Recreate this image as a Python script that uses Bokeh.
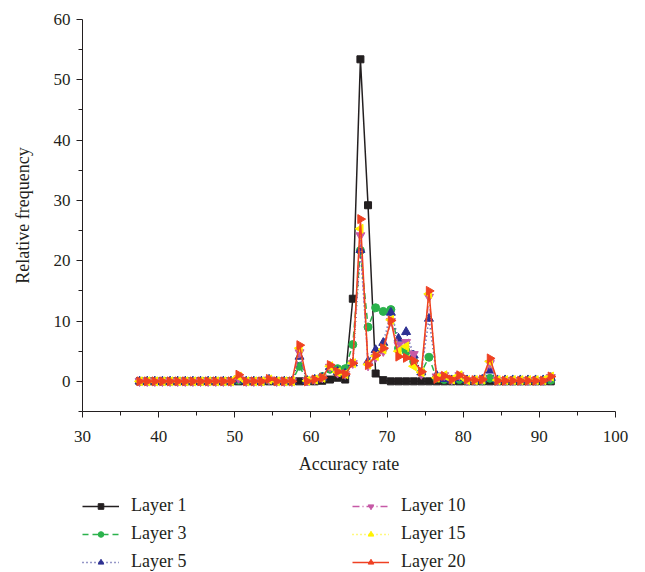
import math
import numpy as np
from bokeh.plotting import figure
from bokeh.layouts import column
from bokeh.models import Range1d, FixedTicker, Legend, LegendItem
from bokeh.embed import file_html
from bokeh.resources import INLINE

accuracy = [37.5, 38.5, 39.5, 40.5, 41.5, 42.5, 43.5, 44.5, 45.5, 46.5,
            47.5, 48.5, 49.5, 50.5, 51.5, 52.5, 53.5, 54.5, 55.5, 56.5,
            57.5, 58.5, 59.5, 60.5, 61.5, 62.5, 63.5, 64.5, 65.5, 66.5,
            67.5, 68.5, 69.5, 70.5, 71.5, 72.5, 73.5, 74.5, 75.5, 76.5,
            77.5, 78.5, 79.5, 80.5, 81.5, 82.5, 83.5, 84.5, 85.5, 86.5,
            87.5, 88.5, 89.5, 90.5, 91.5]

layer1 = [0, 0, 0, 0, 0, 0, 0, 0, 0, 0,
          0, 0, 0, 0, 0, 0, 0, 0, 0, 0,
          0, 0, 0, 0, 0.1, 0.3, 0.6, 0.3, 13.7, 53.4,
          29.2, 1.3, 0.2, 0, 0, 0, 0, 0, 0, 0,
          0, 0, 0, 0, 0, 0, 0, 0, 0, 0,
          0, 0, 0, 0, 0]

layer3 = [0, 0, 0, 0, 0, 0, 0, 0, 0, 0,
          0, 0, 0, 0.2, 0, 0, 0, 0.2, 0, 0,
          0, 2.5, 0.1, 0.3, 0.8, 2.0, 2.1, 2.1, 6.1, 21.7,
          9.0, 12.2, 11.6, 11.9, 5.5, 5.0, 3.3, 1.5, 4.0, 0.5,
          0.3, 0.2, 0.3, 0.1, 0.1, 0.1, 0.5, 0.1, 0.1, 0.1,
          0.1, 0.1, 0.1, 0.1, 0.2]

layer5 = [0, 0, 0, 0, 0, 0, 0, 0, 0, 0,
          0, 0, 0, 0.3, 0, 0, 0, 0.3, 0, 0,
          0, 4.1, 0.1, 0.3, 0.6, 2.4, 1.6, 1.3, 3.0, 21.8,
          3.3, 5.2, 6.4, 11.4, 7.1, 8.2, 4.3, 1.5, 10.4, 1.0,
          0.4, 0.2, 0.6, 0.2, 0.2, 0.3, 1.8, 0.2, 0.2, 0.2,
          0.2, 0.2, 0.2, 0.2, 0.6]

layer10 = [0, 0, 0, 0, 0, 0, 0, 0, 0, 0,
           0, 0, 0, 0.5, 0, 0, 0, 0.3, 0, 0,
           0, 4.8, 0.1, 0.3, 0.6, 2.4, 1.4, 1.2, 3.0, 24.2,
           2.6, 4.0, 5.0, 10.0, 6.0, 6.5, 4.5, 1.2, 14.0, 0.8,
           1.0, 0.3, 1.0, 0.2, 0.2, 0.3, 3.0, 0.2, 0.2, 0.2,
           0.2, 0.2, 0.2, 0.2, 0.7]

layer15 = [0, 0, 0, 0, 0, 0, 0, 0, 0, 0,
           0, 0, 0, 0.8, 0, 0, 0, 0.3, 0, 0,
           0, 5.5, 0.1, 0.3, 0.6, 2.5, 1.5, 1.2, 3.0, 25.3,
           2.8, 4.2, 5.3, 10.2, 5.0, 5.8, 2.5, 1.5, 14.5, 0.6,
           1.0, 0.3, 1.0, 0.2, 0.2, 0.3, 3.3, 0.2, 0.2, 0.2,
           0.2, 0.2, 0.2, 0.2, 0.8]

layer20 = [0, 0, 0, 0, 0, 0, 0, 0, 0, 0,
           0, 0, 0, 1.1, 0, 0, 0, 0.4, 0, 0,
           0, 6.0, 0, 0.3, 0.6, 2.7, 1.6, 1.2, 3.0, 26.9,
           2.7, 4.3, 5.5, 10.1, 4.1, 3.9, 3.4, 1.6, 15.0, 0.4,
           0.9, 0.3, 1.0, 0.3, 0.2, 0.3, 3.8, 0.1, 0.1, 0.1,
           0.1, 0.1, 0.1, 0.1, 0.8]

x_ticks = [30, 40, 50, 60, 70, 80, 90, 100]
y_ticks = [0, 10, 20, 30, 40, 50, 60]

FONT = "Liberation Serif"
TXT = "#231f20"

p = figure(width=645, height=485, output_backend="svg", toolbar_location=None,
           x_range=Range1d(30, 100), y_range=Range1d(-5, 60),
           min_border_left=82, min_border_right=30, min_border_top=19,
           min_border_bottom=74)
p.outline_line_color = None
p.grid.grid_line_color = None
p.background_fill_color = "white"
p.border_fill_color = "white"

p.xaxis.ticker = FixedTicker(ticks=x_ticks, minor_ticks=[35, 45, 55, 65, 75, 85, 95])
p.yaxis.ticker = FixedTicker(ticks=y_ticks, minor_ticks=[-5, 5, 15, 25, 35, 45, 55])
for ax in (p.xaxis[0], p.yaxis[0]):
    ax.axis_line_color = TXT
    ax.major_tick_line_color = TXT
    ax.minor_tick_line_color = TXT
    ax.major_tick_in = 0
    ax.major_tick_out = 6
    ax.minor_tick_in = 0
    ax.minor_tick_out = 4
    ax.major_label_text_font = FONT
    ax.major_label_text_font_size = "17px"
    ax.major_label_text_color = TXT
    ax.axis_label_text_font = FONT
    ax.axis_label_text_font_size = "18px"
    ax.axis_label_text_font_style = "normal"
    ax.axis_label_text_color = TXT
p.xaxis.axis_label = "Accuracy rate"
p.yaxis.axis_label = "Relative frequency"
p.xaxis.major_label_standoff = 13
p.yaxis.major_label_standoff = 6
p.xaxis.axis_label_standoff = 9
p.yaxis.axis_label_standoff = 18

series = [
    ("Layer 1", layer1, "#231f20", "solid", "square", 0.0, 7),
    ("Layer 3", layer3, "#2bb24c", "6 4", "circle", 0.0, 8),
    ("Layer 5", layer5, "#2e3192", "1 3", "triangle", 0.0, 9),
    ("Layer 10", layer10, "#c659a6", "7 3 1 3", "inverted_triangle", 0.0, 9),
    ("Layer 15", layer15, "#fff200", "1 3", "triangle", math.pi / 2, 9),
    ("Layer 20", layer20, "#ef4123", "solid", "triangle", -math.pi / 2, 9),
]

# legend strip below the chart (its frame is aligned with the chart frame)
q = figure(width=645, height=87, output_backend="svg", toolbar_location=None,
           x_range=Range1d(0, 1), y_range=Range1d(0, 1),
           x_axis_type=None, y_axis_type=None,
           min_border_left=82, min_border_right=30, min_border_top=0,
           min_border_bottom=0)
q.outline_line_color = None
q.grid.grid_line_color = None
q.background_fill_color = "white"
q.border_fill_color = "white"

nan_pt = np.array([np.nan])
items = []
for name, ys, color, dash, marker, ang, size in series:
    p.line(accuracy, ys, line_color=color, line_width=1.5, line_dash=dash)
    p.scatter(x=accuracy, y=ys, angle=ang, marker=marker,
              size=size, fill_color=color, line_color=color)
    lr = q.line(x=nan_pt, y=nan_pt, line_color=color, line_width=1.5, line_dash=dash)
    sr = q.scatter(x=nan_pt, y=nan_pt, angle=ang, marker=marker,
                   size=size, fill_color=color, line_color=color)
    items.append(LegendItem(label=name, renderers=[lr, sr]))


def make_legend(its, loc):
    leg = Legend(items=its, location=loc, orientation="vertical")
    leg.label_text_font = FONT
    leg.label_text_font_size = "18px"
    leg.label_text_color = TXT
    leg.glyph_width = 37
    leg.glyph_height = 14
    leg.label_height = 20
    leg.label_standoff = 12
    leg.spacing = 7
    leg.padding = 0
    leg.margin = 0
    leg.border_line_alpha = 0
    leg.background_fill_alpha = 0
    return leg


q.add_layout(make_legend(items[:3], (0, 0)))
q.add_layout(make_legend(items[3:], (270, 0)))

layout = column(p, q, spacing=0)
open("out.html", "w").write(file_html(layout, INLINE))
